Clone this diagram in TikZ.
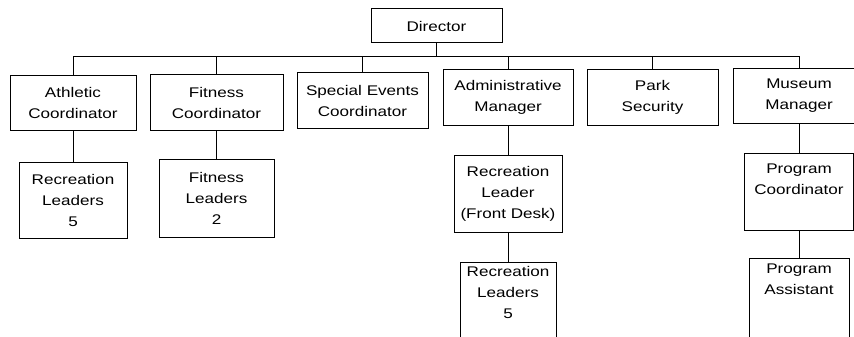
\documentclass[tikz,border=0pt]{standalone}
\usepackage{fontspec}
\setmainfont[FakeStretch=1.22]{Liberation Sans}
\usepackage{tikz}
\tikzset{
  post/.style ={draw, line width=1pt, align=center, inner xsep=2pt, inner ysep=0pt,
                font=\fontsize{14}{21}\selectfont},
  toppost/.style={post, anchor=north, text depth=#1},
  link/.style ={line width=1pt}
}

\begin{document}
\begin{tikzpicture}[x=1pt,y=-1pt]
\useasboundingbox (0,0) rectangle (854,337);

% top
\node[post, minimum width=131pt, minimum height=34pt] (dir) at (436.5,26) {Director};

% first row
\node[post, minimum width=126pt, minimum height=54pt] (ath) at (73,103)    {Athletic\\Coordinator};
\node[post, minimum width=133pt, minimum height=55pt] (fit) at (216.5,102.5) {Fitness\\Coordinator};
\node[post, minimum width=131pt, minimum height=55pt] (spe) at (362.5,100.5) {Special Events\\Coordinator};
\node[post, minimum width=130pt, minimum height=55pt] (adm) at (508,97.5)  {Administrative\\Manager};
\node[post, minimum width=131pt, minimum height=55pt] (prk) at (652.5,97.5) {Park\\Security};
\node[post, minimum width=132pt, minimum height=54pt] (mus) at (799,96)    {Museum\\Manager};

% second row
\node[post, minimum width=108pt, minimum height=76pt] (rec) at (73,200)    {Recreation\\Leaders\\5};
\node[post, minimum width=115pt, minimum height=78pt] (fld) at (216.5,198) {Fitness\\Leaders\\2};
\node[post, minimum width=108pt, minimum height=77pt] (fdk) at (508,193.5) {Recreation\\Leader\\(Front Desk)};
\node[toppost=26pt, minimum width=109pt, inner ysep=10pt] (pco) at (799,153) {Program\\Coordinator};

% third row, runs off the page
\node[toppost=100pt, minimum width=96pt, inner ysep=4pt]  (rec2) at (508,262) {Recreation\\Leaders\\5};
\node[toppost=100pt, minimum width=100pt, inner ysep=5pt] (pas)  at (799,258) {Program\\Assistant};

% lines
\coordinate (bus) at (436.5,57);
\draw[link] (dir.south) -- (bus);
\foreach \n in {ath,fit,spe,adm,prk,mus}
  \draw[link] (bus) -| (\n.north);
\draw[link] (ath.south) -- (rec.north);
\draw[link] (fit.south) -- (fld.north);
\draw[link] (adm.south) -- (fdk.north);
\draw[link] (fdk.south) -- (rec2.north);
\draw[link] (mus.south) -- (pco.north);
\draw[link] (pco.south) -- (pas.north);
\end{tikzpicture}
\end{document}
